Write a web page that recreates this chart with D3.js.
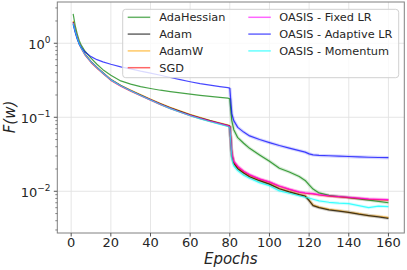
<!DOCTYPE html>
<html><head><meta charset="utf-8">
<script src="https://cdn.jsdelivr.net/npm/d3@7"></script>
<style>
html,body{margin:0;padding:0;background:#fff;}
svg{display:block;font-family:"DejaVu Sans",sans-serif;}
</style></head>
<body><svg id="c" width="407" height="270"></svg>
<script>
const epochs = [1,2,3,4,5,7,10,13,16,20,25,30,35,40,45,50,55,60,65,70,75,79,80,81,82,84,87,90,95,100,105,110,115,118,120,122,125,130,135,140,145,150,155,160];
const adaHessian = [2.5,1.75,1.35,1.1,0.95,0.78,0.63,0.52,0.44,0.37,0.31,0.28,0.26,0.245,0.232,0.222,0.213,0.205,0.198,0.192,0.186,0.181,0.178,0.09,0.068,0.053,0.0445,0.038,0.031,0.0255,0.0205,0.0182,0.0158,0.014,0.0122,0.0107,0.0095,0.0088,0.0085,0.0082,0.0079,0.0076,0.0073,0.0070];
const adam = [1.95,1.5,1.2,1.0,0.88,0.71,0.565,0.472,0.4,0.323,0.268,0.23,0.2,0.174,0.152,0.134,0.12,0.108,0.098,0.09,0.083,0.078,0.076,0.031,0.024,0.0202,0.0176,0.0157,0.0139,0.0125,0.0108,0.0098,0.009,0.0086,0.0075,0.0064,0.006,0.0056,0.0054,0.0052,0.0049,0.0047,0.0045,0.0043];
const adamW = [2.0,1.52,1.22,1.02,0.89,0.72,0.57,0.476,0.404,0.327,0.271,0.233,0.202,0.176,0.154,0.136,0.122,0.11,0.1,0.091,0.084,0.079,0.077,0.031,0.0242,0.0204,0.0178,0.0158,0.014,0.0126,0.0109,0.0099,0.0091,0.0087,0.0076,0.0065,0.0061,0.0057,0.0055,0.0052,0.005,0.0047,0.0046,0.0044];
const sgd = [1.85,1.45,1.17,0.98,0.86,0.69,0.55,0.46,0.39,0.315,0.262,0.225,0.195,0.17,0.148,0.131,0.117,0.105,0.096,0.088,0.081,0.076,0.074,0.032,0.025,0.0215,0.0185,0.0166,0.0146,0.0133,0.0117,0.0106,0.0097,0.0094,0.0093,0.0092,0.0089,0.0086,0.0084,0.0082,0.008,0.0078,0.0077,0.0076];
const oasisFixed = [1.9,1.48,1.2,1.0,0.875,0.7,0.56,0.468,0.396,0.32,0.265,0.228,0.197,0.172,0.15,0.132,0.118,0.106,0.097,0.089,0.082,0.077,0.075,0.033,0.0255,0.0218,0.0187,0.0168,0.0147,0.0134,0.0118,0.0107,0.0098,0.0095,0.0094,0.0093,0.009,0.0087,0.0085,0.0083,0.0081,0.0079,0.0078,0.0077];
const oasisAdaptive = [1.8,1.4,1.15,0.98,0.88,0.76,0.66,0.6,0.56,0.52,0.48,0.45,0.42,0.395,0.37,0.345,0.322,0.302,0.285,0.272,0.26,0.252,0.248,0.112,0.09,0.073,0.063,0.056,0.05,0.0455,0.0415,0.0383,0.0355,0.0338,0.032,0.031,0.0305,0.0302,0.0298,0.0295,0.0291,0.0288,0.0286,0.0284];
const oasisMomentum = [1.85,1.46,1.18,0.99,0.87,0.7,0.56,0.468,0.397,0.32,0.266,0.228,0.197,0.171,0.149,0.131,0.117,0.105,0.095,0.087,0.08,0.075,0.072,0.028,0.022,0.019,0.0165,0.015,0.0131,0.0119,0.0101,0.0094,0.0087,0.0083,0.0081,0.0078,0.0074,0.0071,0.0069,0.0068,0.0064,0.006,0.0063,0.0062];

const seriesNames = ["AdaHessian","Adam","AdamW","SGD","OASIS - Fixed LR","OASIS - Adaptive LR","OASIS - Momentum"];
const seriesValues = [adaHessian, adam, adamW, sgd, oasisFixed, oasisAdaptive, oasisMomentum];
const seriesColors = ["#008000","#000000","#ffa500","#ff0000","#ff00ff","#0000ff","#00ffff"];
const drawOrder = [0, 2, 1, 3, 4, 5, 6];
const xTicks = [0,20,40,60,80,100,120,140,160];
const yTicks = [1, 0.1, 0.01];
const yTickExp = ["0","\u22121","\u22122"];

const svg = d3.select("#c");
const L = 57.3, R = 404.3, T = 2, B = 233;
const x = d3.scaleLinear().domain([-7, 168]).range([L, R]);
const y = d3.scaleLog().domain([3.61, 0.00273]).range([T, B]);

// grid
const grid = svg.append("g");
xTicks.forEach(t => grid.append("line").attr("x1", x(t)).attr("x2", x(t)).attr("y1", T).attr("y2", B)
  .attr("stroke", "#e3e3e3").attr("stroke-width", 0.9));
yTicks.forEach(t => grid.append("line").attr("x1", L).attr("x2", R).attr("y1", y(t)).attr("y2", y(t))
  .attr("stroke", "#e3e3e3").attr("stroke-width", 0.9));

// series
const line = d3.line().x((d, i) => x(epochs[i])).y(d => y(d));
const bandLine = d3.line().defined((d, i) => epochs[i] >= 80).x((d, i) => x(epochs[i])).y(d => y(d));
const plot = svg.append("g");
drawOrder.forEach(k => {
  plot.append("path").attr("d", bandLine(seriesValues[k])).attr("fill", "none")
    .attr("stroke", seriesColors[k]).attr("stroke-width", 3.4).attr("stroke-opacity", 0.16)
    .attr("stroke-linejoin", "round");
});
drawOrder.forEach(k => {
  plot.append("path").attr("d", line(seriesValues[k])).attr("fill", "none")
    .attr("stroke", seriesColors[k]).attr("stroke-width", 1.2).attr("stroke-opacity", 0.72)
    .attr("stroke-linejoin", "round");
});

// frame
svg.append("rect").attr("x", L).attr("y", T).attr("width", R - L).attr("height", B - T)
  .attr("fill", "none").attr("stroke", "#808080").attr("stroke-width", 1);

// x ticks
const xa = svg.append("g");
xTicks.forEach(t => {
  xa.append("line").attr("x1", x(t)).attr("x2", x(t)).attr("y1", B).attr("y2", B + 3.5).attr("stroke", "#555");
  xa.append("text").attr("x", x(t)).attr("y", 247).attr("text-anchor", "middle")
    .attr("font-size", 13).attr("fill", "#262626").text(t);
});
// y ticks
const ya = svg.append("g");
yTicks.forEach((t, i) => {
  ya.append("line").attr("x1", L - 3.5).attr("x2", L).attr("y1", y(t)).attr("y2", y(t)).attr("stroke", "#555");
  const tx = ya.append("text").attr("x", 50.5).attr("y", y(t) + 6).attr("text-anchor", "end")
    .attr("font-size", 13).attr("fill", "#262626");
  tx.append("tspan").text("10");
  tx.append("tspan").attr("font-size", 9).attr("dy", -6.5).text(yTickExp[i]);
});
// minor y ticks
[0.001, 0.01, 0.1, 1].forEach(dec => {
  for (let m = 2; m <= 9; m++) {
    const v = dec * m;
    if (y(v) > T && y(v) < B) ya.append("line").attr("x1", L - 2).attr("x2", L).attr("y1", y(v)).attr("y2", y(v)).attr("stroke", "#555").attr("stroke-width", 0.7);
  }
});

// axis labels
svg.append("text").attr("x", (L + R) / 2).attr("y", 264).attr("text-anchor", "middle")
  .attr("font-size", 15).attr("font-style", "italic").attr("fill", "#262626").text("Epochs");
svg.append("text").attr("transform", "translate(15,117) rotate(-90)").attr("text-anchor", "middle")
  .attr("font-size", 15).attr("font-style", "italic").attr("fill", "#262626").text("F(w)");

// legend
const lg = svg.append("g");
lg.append("rect").attr("x", 122.7).attr("y", 9.3).attr("width", 276).attr("height", 68.4).attr("rx", 3)
  .attr("fill", "#fff").attr("fill-opacity", 0.8).attr("stroke", "#d0d0d0").attr("stroke-width", 1);
const cols = [{lx: 127.7, tx: 159.3}, {lx: 248.3, tx: 279.3}];
seriesNames.forEach((name, k) => {
  const c = k < 4 ? cols[0] : cols[1];
  const row = k < 4 ? k : k - 4;
  const yy = 17.3 + row * 16.8;
  lg.append("line").attr("x1", c.lx).attr("x2", c.lx + 22.5).attr("y1", yy).attr("y2", yy)
    .attr("stroke", seriesColors[k]).attr("stroke-opacity", 0.6).attr("stroke-width", 1.5);
  lg.append("text").attr("x", c.tx).attr("y", yy + 4.1).attr("font-size", 11.3).attr("fill", "#262626").text(name);
});
</script></body></html>
